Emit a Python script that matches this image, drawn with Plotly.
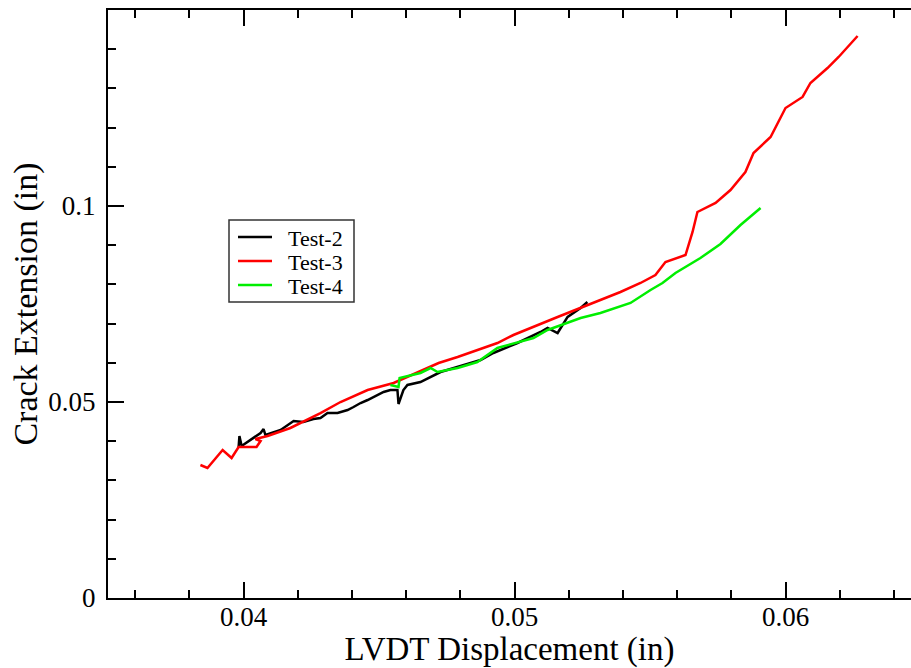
import plotly.graph_objects as go

# Test-2 (black)
t2_x = [0.03982, 0.03985, 0.03993, 0.04015, 0.04044, 0.04063, 0.04074, 0.04081, 0.04137,
        0.04173, 0.04185, 0.04221, 0.04258, 0.04284, 0.04310, 0.04347, 0.04384, 0.04406,
        0.04432, 0.04458, 0.04517, 0.04542, 0.04568, 0.04572, 0.04590, 0.04605, 0.04653,
        0.04727, 0.04775, 0.04875, 0.04922, 0.05011, 0.05096, 0.05122, 0.05159, 0.05196,
        0.05244, 0.05269]
t2_y = [0.03852, 0.04133, 0.03878, 0.03980, 0.04107, 0.04209, 0.04311, 0.04158, 0.04286,
        0.04464, 0.04515, 0.04490, 0.04566, 0.04592, 0.04719, 0.04719, 0.04796, 0.04872,
        0.04974, 0.05051, 0.05255, 0.05306, 0.05306, 0.04949, 0.05306, 0.05434, 0.05510,
        0.05765, 0.05867, 0.06071, 0.06250, 0.06505, 0.06786, 0.06888, 0.06760, 0.07170,
        0.07400, 0.07550]

# Test-3 (red)
t3_x = [0.03841, 0.03867, 0.03923, 0.03956, 0.03982, 0.04048, 0.04063, 0.04044, 0.04089,
        0.04173, 0.04284, 0.04358, 0.04458, 0.04554, 0.04720, 0.04790, 0.04937, 0.04996,
        0.05159, 0.05244, 0.05317, 0.05391, 0.05465, 0.05520, 0.05557, 0.05631, 0.05657,
        0.05675, 0.05742, 0.05797, 0.05852, 0.05882, 0.05945, 0.06000, 0.06063, 0.06092,
        0.06155, 0.06196, 0.06266]
t3_y = [0.03393, 0.03316, 0.03776, 0.03571, 0.03852, 0.03852, 0.04005, 0.04056, 0.04133,
        0.04337, 0.04719, 0.05000, 0.05306, 0.05485, 0.05995, 0.06148, 0.06505, 0.06709,
        0.07168, 0.07398, 0.07602, 0.07806, 0.08036, 0.08240, 0.08571, 0.08750, 0.09337,
        0.09847, 0.10077, 0.10408, 0.10867, 0.11352, 0.11760, 0.12500, 0.12781, 0.13138,
        0.13520, 0.13801, 0.14337]

# Test-4 (green)
t4_x = [0.04542, 0.04572, 0.04576, 0.04653, 0.04690, 0.04716, 0.04790, 0.04863, 0.04937,
        0.05070, 0.05122, 0.05244, 0.05317, 0.05428, 0.05502, 0.05546, 0.05594, 0.05686,
        0.05760, 0.05834, 0.05908]
t4_y = [0.05434, 0.05383, 0.05612, 0.05740, 0.05867, 0.05765, 0.05867, 0.06020, 0.06378,
        0.06633, 0.06837, 0.07143, 0.07270, 0.07526, 0.07857, 0.08036, 0.08291, 0.08673,
        0.09031, 0.09515, 0.09949]

series_names = ["Test-2", "Test-3", "Test-4"]
series_colors = ["#000000", "#ff0000", "#00ee00"]
series_x = [t2_x, t3_x, t4_x]
series_y = [t2_y, t3_y, t4_y]

font_family = "Liberation Serif"
fig = go.Figure()
for name, xs, ys, col in zip(series_names, series_x, series_y, series_colors):
    fig.add_trace(go.Scatter(x=xs, y=ys, mode="lines", name=name, showlegend=False,
                             line=dict(color=col, width=2.5)))

# Legend box placed in paper coordinates (plot area 803 x 588 px)
PW, PH = 803.0, 588.0
def px(xp):
    return (xp - 108) / PW
def py(yp):
    return (598 - yp) / PH

shapes = [dict(type="rect", xref="paper", yref="paper",
               x0=px(229), x1=px(354), y0=py(302), y1=py(220),
               line=dict(color="#333333", width=1.5), fillcolor="white", layer="above")]
annotations = []
for i, (name, col) in enumerate(zip(series_names, series_colors)):
    yc = 237 + 24 * i
    shapes.append(dict(type="line", xref="paper", yref="paper",
                       x0=px(238), x1=px(272), y0=py(yc), y1=py(yc),
                       line=dict(color=col, width=2.5), layer="above"))
    annotations.append(dict(xref="paper", yref="paper", x=px(286), y=py(yc + 1),
                            xanchor="left", yanchor="middle", text=name, showarrow=False,
                            font=dict(family=font_family, size=22, color="black")))

fig.update_layout(
    width=911, height=668,
    margin=dict(l=108, r=0, t=10, b=70),
    paper_bgcolor="white", plot_bgcolor="white",
    font=dict(family=font_family, color="black"),
    showlegend=False,
    shapes=shapes, annotations=annotations,
)
fig.update_xaxes(
    range=[0.035, 0.035 + 803 / 27100], showgrid=False, zeroline=False, automargin=False,
    showline=True, linewidth=2, linecolor="black", mirror="ticks",
    ticks="inside", ticklen=16, tickwidth=2, tickcolor="black",
    tickmode="array", tickvals=[0.04, 0.05, 0.06], ticktext=["0.04", "0.05", "0.06"],
    minor=dict(ticks="inside", ticklen=8, tickwidth=2, tickcolor="black", dtick=0.002, tick0=0.0),
    tickfont=dict(family=font_family, size=27), ticklabelstandoff=-6,
    title=dict(text="LVDT Displacement (in)", font=dict(family=font_family, size=33), standoff=17),
)
fig.update_yaxes(
    range=[0, 0.15], showgrid=False, zeroline=False, automargin=False,
    showline=True, linewidth=2, linecolor="black", mirror=False,
    ticks="inside", ticklen=16, tickwidth=2, tickcolor="black",
    tickmode="array", tickvals=[0, 0.05, 0.1], ticktext=["0", "0.05", "0.1"],
    minor=dict(ticks="inside", ticklen=8, tickwidth=2, tickcolor="black", dtick=0.01, tick0=0.0),
    tickfont=dict(family=font_family, size=27), ticklabelstandoff=5,
    title=dict(text="Crack Extension (in)", font=dict(family=font_family, size=34), standoff=0),
)

fig.write_html("out.html")
